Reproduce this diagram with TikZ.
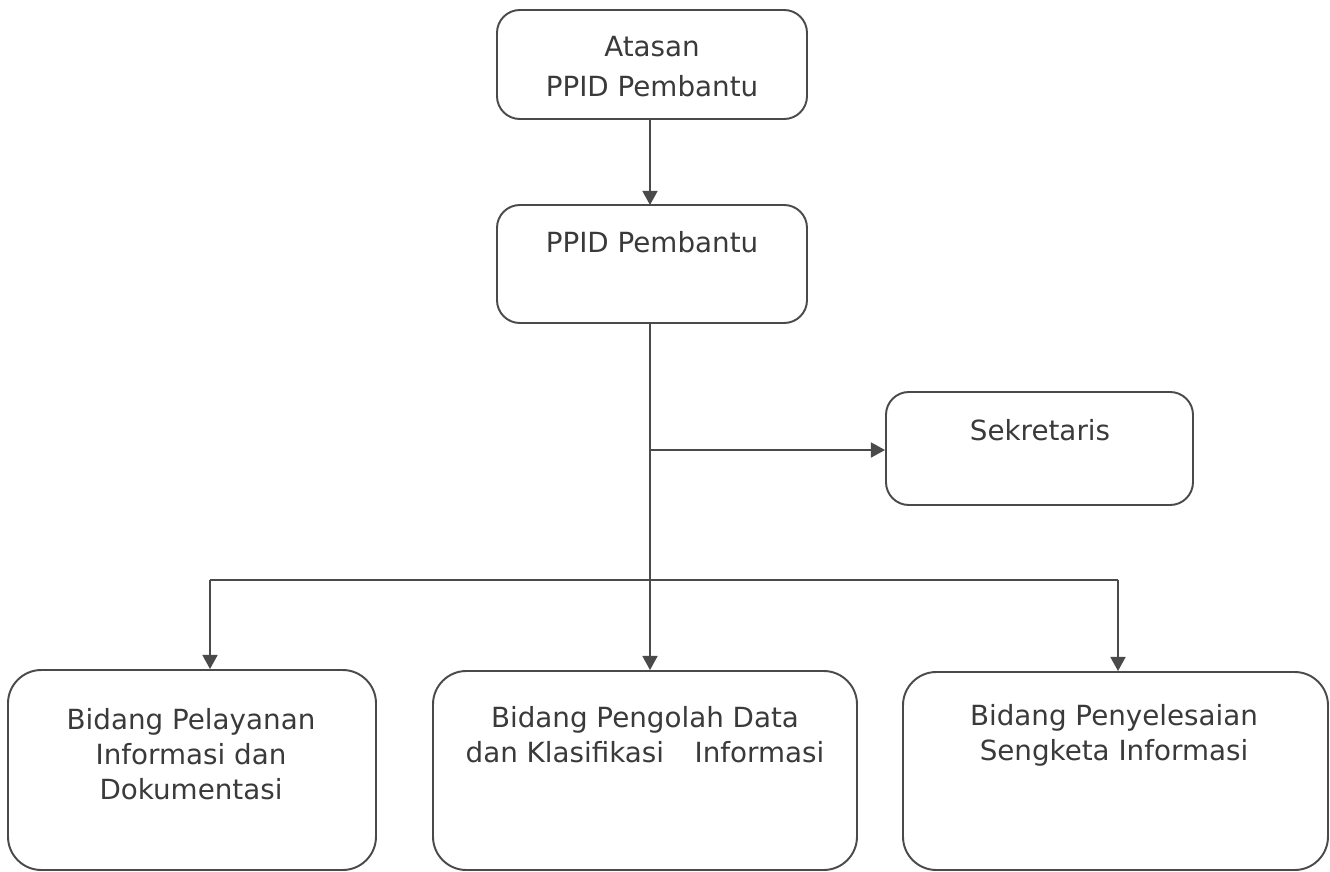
\documentclass[tikz,border=0pt]{standalone}
\usepackage{fontspec}
\setmainfont{DejaVu Sans}
\usetikzlibrary{arrows.meta}
\definecolor{linecol}{HTML}{4A4A4A}
\definecolor{txtcol}{HTML}{3A3A3A}
\begin{document}
\begin{tikzpicture}[x=0.02cm,y=-0.02cm,
  box/.style={draw=linecol,line width=1.1pt,rounded corners=13pt,inner sep=0pt},
  bigbox/.style={box,rounded corners=19pt},
  txt/.style={text=txtcol,align=center,font=\fontsize{15.8pt}{20pt}\selectfont,inner sep=0pt},
  arr/.style={draw=linecol,line width=1.1pt,-{Triangle[length=8pt,width=8.5pt]}},
  ln/.style={draw=linecol,line width=1.1pt}]
\useasboundingbox (0,0) rectangle (1330,872);
\node[box,minimum width=310*0.02cm,minimum height=109*0.02cm] (atasan) at (652,64.5) {};
\node[box,minimum width=310*0.02cm,minimum height=118*0.02cm] (ppid) at (652,264) {};
\node[box,minimum width=307*0.02cm,minimum height=113*0.02cm] (sek) at (1039.5,448.5) {};
\node[bigbox,minimum width=368*0.02cm,minimum height=200*0.02cm] (left) at (192,770) {};
\node[bigbox,minimum width=424*0.02cm,minimum height=199*0.02cm] (mid) at (645,770.5) {};
\node[bigbox,minimum width=425*0.02cm,minimum height=198*0.02cm] (right) at (1115.5,771) {};
\node[txt,font=\fontsize{15.8pt}{22.8pt}\selectfont] (tatasan) at (652,67) {Atasan\\PPID Pembantu};
\node[txt] (tppid) at (652,242) {PPID Pembantu};
\node[txt] (tsek) at (1040,430) {Sekretaris};
\node[txt] (tleft) at (191,754) {Bidang Pelayanan\\Informasi dan\\Dokumentasi};
\node[txt] (tmid) at (645,735) {Bidang Pengolah Data\\dan Klasifikasi\hspace{1.1em}Informasi};
\node[txt] (tright) at (1114,735) {Bidang Penyelesaian\\Sengketa Informasi};
\coordinate (stem) at (650,323);
\coordinate (bl) at (210,580);
\coordinate (br) at (1118,580);
\draw[arr] (650,119) -- (650,205);
\draw[arr] (stem) -- (stem |- mid.north);
\draw[arr] (stem |- 0,450) -- (sek.west |- 0,450);
\draw[ln] (bl) -- (br);
\draw[arr] (bl) -- (bl |- left.north);
\draw[arr] (br) -- (br |- right.north);
\end{tikzpicture}
\end{document}
